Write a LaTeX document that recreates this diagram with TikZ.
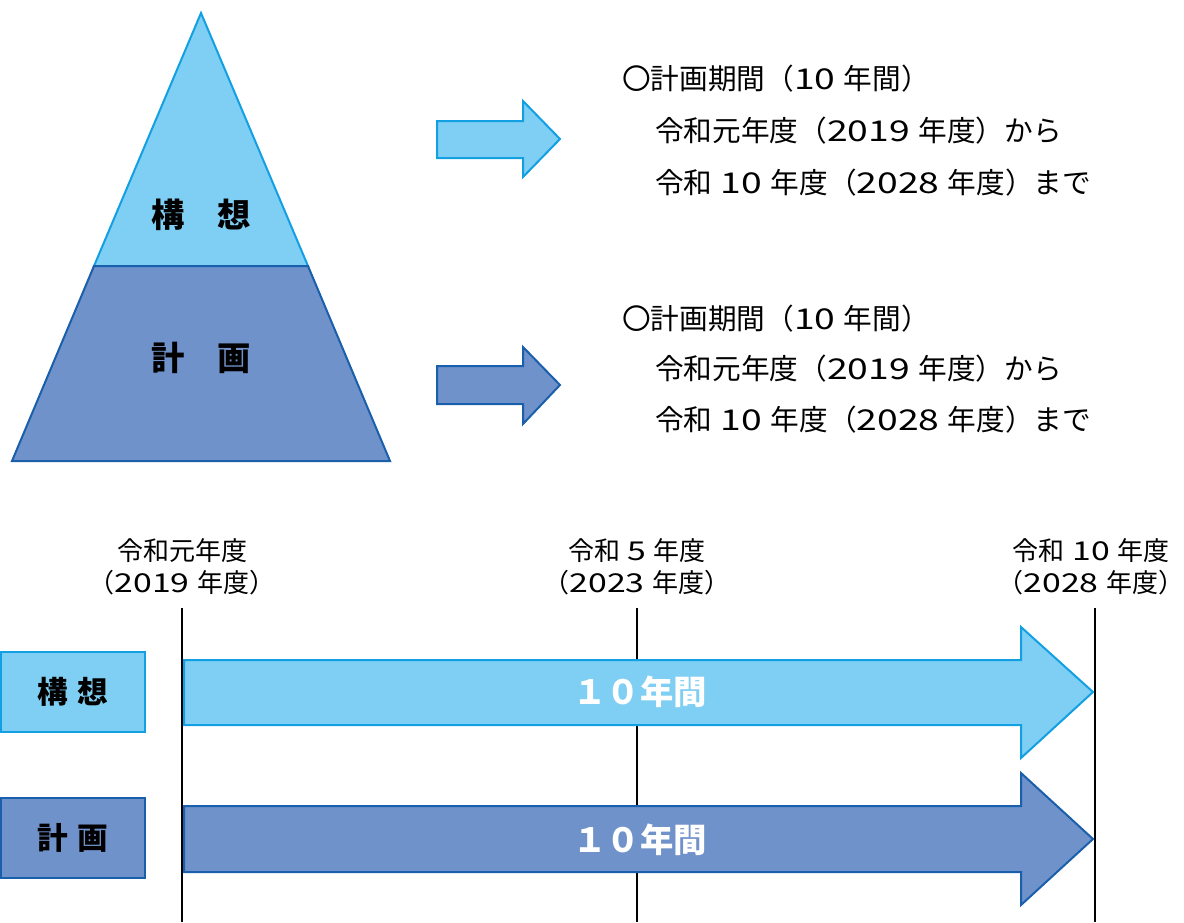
\documentclass[tikz,border=0pt]{standalone}
\usepackage{fontspec}
\setmainfont{Noto Sans CJK JP}
\newfontfamily\dgfont[FakeStretch=1.3]{Noto Sans CJK JP}
\newcommand\dgt[1]{{\dgfont #1}}
\definecolor{lfill}{HTML}{7FCEF3}
\definecolor{lline}{HTML}{12A0E3}
\definecolor{dfill}{HTML}{7092CA}
\definecolor{dline}{HTML}{1A5FAB}
\tikzset{
  lshape/.style={fill=lfill,draw=lline,line width=1.5pt,line join=miter},
  dshape/.style={fill=dfill,draw=dline,line width=1.5pt,line join=miter},
  pyrlabel/.style={font=\fontsize{25}{25}\selectfont\bfseries,inner sep=0pt},
  boxlabel/.style={font=\fontsize{23}{23}\selectfont\bfseries,inner sep=0pt},
  barlabel/.style={font=\fontsize{25}{25}\selectfont\bfseries,text=white,inner sep=0pt},
  desc/.style={font=\fontsize{21.5}{21.5}\selectfont,anchor=west,inner sep=0pt},
  tick/.style={font=\fontsize{19.5}{19.5}\selectfont,inner sep=0pt},
  yearline/.style={line width=2.2pt,black}
}
\begin{document}
\begin{tikzpicture}[x=0.75pt,y=-0.75pt]
\useasboundingbox (0,0) rectangle (1184,922);
% pyramid
\draw[lshape] (201,13) -- (308,266) -- (94,266) -- cycle;
\draw[dshape] (94,266) -- (308,266) -- (390,461) -- (12,461) -- cycle;
\node[pyrlabel] (kousouP) at (201,215) {構　想};
\node[pyrlabel] (keikakuP) at (201,358) {計　画};
% small arrows
\draw[lshape] (437,121) -- (523,121) -- (523,101) -- (560,139) -- (523,177) -- (523,158) -- (437,158) -- cycle;
\draw[dshape] (437,366) -- (523,366) -- (523,347) -- (560,385) -- (523,424) -- (523,404) -- (437,404) -- cycle;
% descriptions
\node[desc] (a1) at (622,79) {〇計画期間（\dgt{10 }年間）};
\node[desc] (a2) at (655,131) {令和元年度（\dgt{2019 }年度）から};
\node[desc] (a3) at (655,183) {令和\dgt{ 10 }年度（\dgt{2028 }年度）まで};
\node[desc] (b1) at (622,319) {〇計画期間（\dgt{10 }年間）};
\node[desc] (b2) at (655,369) {令和元年度（\dgt{2019 }年度）から};
\node[desc] (b3) at (655,420) {令和\dgt{ 10 }年度（\dgt{2028 }年度）まで};
% timeline labels
\node[tick] (y1a) at (182,551) {令和元年度};
\node[tick] (y1b) at (182,583) {（\dgt{2019 }年度）};
\node[tick] (y2a) at (637,551) {令和\dgt{ 5 }年度};
\node[tick] (y2b) at (637,583) {（\dgt{2023 }年度）};
\node[tick] (y3a) at (1091,551) {令和\dgt{ 10 }年度};
\node[tick] (y3b) at (1091,583) {（\dgt{2028 }年度）};
% year lines
\coordinate (l1t) at (182,608); \coordinate (l1b) at (182,922);
\coordinate (l2t) at (637,608); \coordinate (l2b) at (637,922);
\coordinate (l3t) at (1095,608); \coordinate (l3b) at (1095,922);
\draw[yearline] (l1t) -- (l1b);
\draw[yearline] (l2t) -- (l2b);
\draw[yearline] (l3t) -- (l3b);
% big arrows
\draw[lshape] (184,660) -- (1021,660) -- (1021,627) -- (1093,692) -- (1021,758) -- (1021,725) -- (184,725) -- cycle;
\draw[dshape] (184,806) -- (1021,806) -- (1021,773) -- (1093,839) -- (1021,905) -- (1021,872) -- (184,872) -- cycle;
\node[barlabel] (p1) at (640,692) {１０年間};
\node[barlabel] (p2) at (640,840) {１０年間};
% left boxes
\node[lshape,boxlabel,minimum width=108pt,minimum height=60pt,inner sep=0pt] (boxK) at (73,692) {構\hspace{0.3em}想};
\node[dshape,boxlabel,minimum width=108pt,minimum height=60pt,inner sep=0pt] (boxP) at (73,838) {計\hspace{0.3em}画};
\end{tikzpicture}
\end{document}
